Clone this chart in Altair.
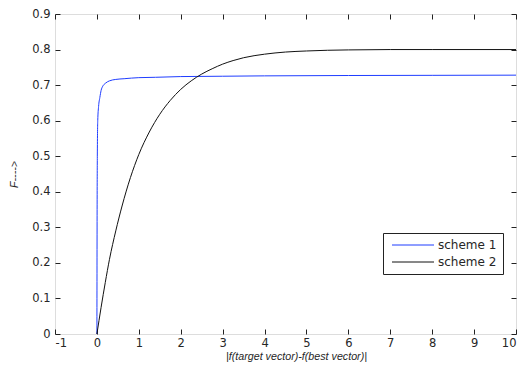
import altair as alt
import pandas as pd

# scheme 1 (blue) readings
s1_x = [0.0, 0.005, 0.01, 0.02, 0.04, 0.07, 0.10, 0.14, 0.20, 0.30, 0.45, 0.65, 1.0, 1.4, 2.0, 3.0, 4.0, 6.0, 8.0, 10.0]
s1_y = [0.0, 0.35, 0.50, 0.60, 0.64, 0.665, 0.685, 0.697, 0.705, 0.712, 0.716, 0.718, 0.721, 0.722, 0.724, 0.725, 0.726, 0.727, 0.7275, 0.728]

# scheme 2 (black) readings
s2_x = [0.0, 0.1, 0.2, 0.3, 0.45, 0.6, 0.8, 1.0, 1.25, 1.5, 1.75, 2.0, 2.25, 2.5, 2.75, 3.0, 3.25, 3.5, 4.0, 4.5, 5.0, 5.5, 6.0, 7.0, 8.0, 10.0]
s2_y = [0.0, 0.075, 0.145, 0.21, 0.29, 0.36, 0.44, 0.505, 0.568, 0.618, 0.657, 0.688, 0.712, 0.731, 0.746, 0.759, 0.769, 0.777, 0.787, 0.793, 0.796, 0.798, 0.799, 0.80, 0.80, 0.80]

series_names = ["scheme 1", "scheme 2"]
series_colors = ["#1f3dff", "#111111"]

x_ticks = list(range(-1, 11))
y_ticks = [round(0.1 * i, 1) for i in range(10)]

rows = []
for name, xs_, ys_ in [(series_names[0], s1_x, s1_y), (series_names[1], s2_x, s2_y)]:
    for i, (a, b) in enumerate(zip(xs_, ys_)):
        rows.append({"series": name, "x": a, "y": b, "order": i})
df = pd.DataFrame(rows)

LFONT = "DejaVu Sans"
TFONT = "Liberation Sans"
TXT = "#262626"
W, H = 461, 320

xs = alt.Scale(domain=[-1, 10], nice=False, zero=False)
ys = alt.Scale(domain=[0, 0.9], nice=False, zero=False)

base = alt.Chart(df)

lines = base.mark_line(strokeWidth=1, clip=True, interpolate="monotone").encode(
    x=alt.X("x:Q", scale=xs, axis=alt.Axis(
        values=x_ticks, ticks=False, domain=False, grid=False, labelPadding=3,
        labelExpr="'' + datum.value", labelFont=LFONT, labelFontSize=11.5, labelColor=TXT,
        title="|f(target vector)-f(best vector)|", titleFontStyle="italic",
        titleFont=TFONT, titleColor=TXT, titleFontWeight="normal", titleFontSize=10.7,
        titleX=241, titleY=22, titleAlign="center", titleBaseline="middle")),
    y=alt.Y("y:Q", scale=ys, axis=alt.Axis(
        values=y_ticks, ticks=False, domain=False, grid=False, labelPadding=5,
        labelExpr="'' + datum.value", labelFont=LFONT, labelFontSize=11.5, labelColor=TXT,
        title="F---->", titleFontStyle="italic", titleFontWeight="normal",
        titleFont=TFONT, titleColor=TXT, titleFontSize=10.7,
        titleX=-41, titleY=H / 2, titleAngle=270, titleAlign="center",
        titleBaseline="middle")),
    color=alt.Color("series:N", scale=alt.Scale(domain=series_names, range=series_colors),
                    legend=alt.Legend(
                        title=None, orient="none", legendX=328, legendY=219,
                        symbolType="M-4.2,0H4.2", symbolSize=100, symbolStrokeWidth=1,
                        symbolOffset=18, labelOffset=19,
                        labelFontSize=12, labelFont=LFONT, labelColor=TXT,
                        strokeColor="#222", padding=6, fillColor="white",
                        rowPadding=5)),
    order="order:Q",
)

tick_len = alt.ExprRef(expr="-5")

ticks_bl = base.mark_point(opacity=0).encode(
    x=alt.X("x:Q", scale=xs, axis=alt.Axis(
        values=x_ticks, orient="bottom", tickSize=tick_len, labels=False,
        domain=False, grid=False, title=None, tickColor="#222")),
    y=alt.Y("y:Q", scale=ys, axis=alt.Axis(
        values=y_ticks, orient="left", tickSize=tick_len, labels=False,
        domain=False, grid=False, title=None, tickColor="#222")),
)

ticks_tr = base.mark_point(opacity=0).encode(
    x=alt.X("x:Q", scale=xs, axis=alt.Axis(
        values=x_ticks, orient="top", tickSize=tick_len, labels=False,
        domain=False, grid=False, title=None, tickColor="#222")),
    y=alt.Y("y:Q", scale=ys, axis=alt.Axis(
        values=y_ticks, orient="right", tickSize=tick_len, labels=False,
        domain=False, grid=False, title=None, tickColor="#222")),
)

chart = alt.layer(lines, ticks_bl, ticks_tr).resolve_axis(
    x="independent", y="independent"
).properties(
    width=W, height=H,
    autosize=alt.AutoSizeParams(type="none"),
    padding={"left": 47, "top": 6, "right": 1, "bottom": 36},
).configure_view(
    stroke="#222", strokeWidth=1
).configure(background="white")

chart.save("out.html", embed_options={"renderer": "svg", "actions": False})
